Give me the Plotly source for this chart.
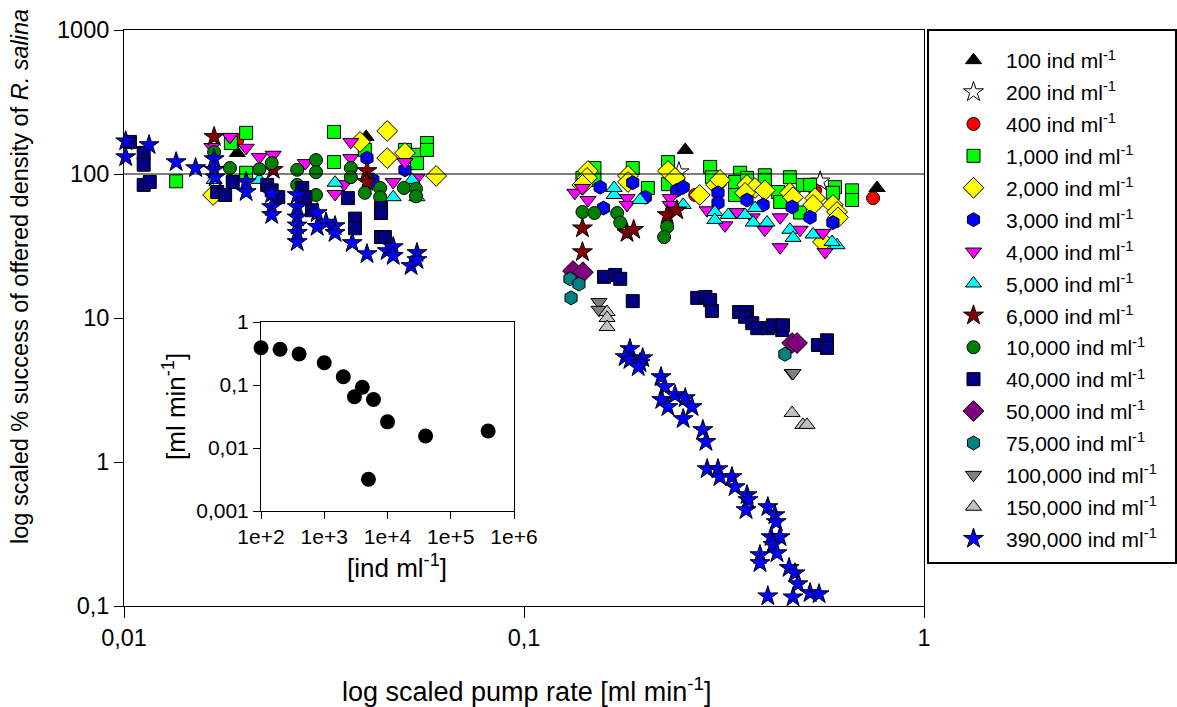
import plotly.graph_objects as go

# ---------------- data ----------------
labels = ["100", "200", "400", "1,000", "2,000", "3,000", "4,000", "5,000", "6,000",
          "10,000", "40,000", "50,000", "75,000", "100,000", "150,000", "390,000"]

rate_100 = [0.0192, 0.0403, 0.253, 0.763]
pct_100 = [140, 181, 147, 80]

rate_200 = [0.244, 0.550]
pct_200 = [103, 89]

rate_400 = [0.0192, 0.268, 0.534, 0.746]
pct_400 = [172, 71.5, 77, 68]

rate_1000 = [0.0135, 0.0202, 0.0185, 0.0202, 0.0335, 0.0335, 0.0400, 0.0504, 0.0540, 0.0572, 0.0572, 0.0540,
             0.150, 0.140, 0.187, 0.204, 0.229, 0.229, 0.292, 0.295, 0.347, 0.337, 0.337, 0.400, 0.400, 0.432,
             0.437, 0.462, 0.498, 0.519, 0.599, 0.592, 0.661, 0.661, 0.490, 0.361, 0.150]
pct_1000 = [89, 193, 164, 102, 196, 121, 147, 147, 136, 164, 147, 119,
            110, 94, 110, 80, 121, 85, 112, 95, 102, 88, 71.5, 98, 91, 75,
            64, 95, 84, 84, 81, 74, 77, 66, 54, 94, 91]

rate_2000 = [0.0167, 0.0455, 0.0455, 0.0389, 0.0504, 0.0603,
             0.1445, 0.1437, 0.182, 0.182, 0.229, 0.2385, 0.275, 0.302, 0.309, 0.361, 0.378, 0.400, 0.462,
             0.4705, 0.357, 0.534, 0.528, 0.592, 0.606, 0.6095, 0.559, 0.140]
pct_2000 = [71.5, 199, 129, 167, 140, 97,
            105, 94, 97, 88, 105, 94, 71.5, 84, 91, 84, 80, 77, 74,
            69, 74, 68, 61, 61, 54.5, 50, 33.7, 84]

rate_3000 = [0.0405, 0.0419, 0.0504, 0.155, 0.158, 0.187, 0.201, 0.241, 0.250, 0.3055, 0.3055, 0.361, 0.396,
             0.468, 0.519, 0.592]
pct_3000 = [129, 91, 107, 81, 58, 87, 69, 77, 81, 74, 63, 66, 61, 59, 50, 46]

rate_4000 = [0.0184, 0.0202, 0.0218, 0.0236, 0.0166, 0.0284, 0.0369, 0.0369, 0.0337, 0.0355, 0.0471, 0.0504, 0.0540,
             0.134, 0.140, 0.1445, 0.181, 0.181, 0.232, 0.232, 0.287, 0.318, 0.341, 0.372, 0.400, 0.437, 0.490,
             0.437, 0.559, 0.566]
pct_4000 = [181, 152, 131, 136, 154, 119, 167, 129, 72.6, 85, 88, 121, 94,
            74, 80, 66, 68, 61, 68, 61, 56, 44, 54.5, 50, 41, 50, 41,
            31, 39, 28.7]

rate_5000 = [0.0168, 0.0218, 0.0337, 0.0471, 0.0525, 0.0540, 0.168, 0.168, 0.195, 0.300, 0.300, 0.324, 0.357,
             0.378, 0.374, 0.405, 0.462, 0.4705, 0.528, 0.606, 0.589, 0.250]
pct_5000 = [91, 91, 87, 69, 91, 69, 71.5, 80, 66, 54.5, 48, 52, 52, 58, 46, 46, 41, 36, 38, 32, 33.7, 61]

rate_6000 = [0.0168, 0.0236, 0.0405, 0.0405, 0.140, 0.140, 0.181, 0.188, 0.228, 0.241]
pct_6000 = [181, 107, 105, 88, 42, 28.7, 39, 41, 52, 56]

rate_10000 = [0.0168, 0.0184, 0.0218, 0.0234, 0.0271, 0.0271, 0.0302, 0.0302, 0.0302, 0.0369, 0.0369, 0.0400,
              0.0437, 0.0437, 0.0501, 0.0537, 0.0537, 0.140, 0.150, 0.171, 0.174, 0.228, 0.224]
pct_10000 = [142, 110, 108, 119, 107, 84, 125, 103, 71.5, 110, 95, 74,
             80, 69, 80, 79, 70, 54.5, 53.6, 53.6, 46, 43, 36.5]

rate_40000 = [0.01035, 0.0112, 0.0112, 0.0112, 0.0116, 0.0171, 0.0179, 0.0187, 0.0228, 0.0234, 0.0243, 0.0279,
              0.0284, 0.0295, 0.0363, 0.0378, 0.0378, 0.0439, 0.0439, 0.0439, 0.0449,
              0.1585, 0.169, 0.174, 0.187, 0.271, 0.284, 0.292, 0.295, 0.345, 0.361, 0.357, 0.372, 0.383,
              0.407, 0.419, 0.442, 0.444, 0.543, 0.572, 0.572]
pct_40000 = [167, 140, 116, 84, 88, 75, 71.5, 88, 84, 77, 69, 80,
             69, 56, 68, 49, 42, 58, 53.6, 36.5, 36.5,
             19.3, 19.9, 18.7, 13.1, 13.8, 14.0, 13.3, 11.2, 11.0, 11.0, 10.2, 9.2, 8.5,
             8.5, 8.9, 8.25, 8.9, 6.5, 7.0, 6.2]

rate_50000 = [0.1326, 0.1404, 0.468, 0.4815]
pct_50000 = [21.2, 20.8, 6.7, 6.7]

rate_75000 = [0.1303, 0.1372, 0.1311, 0.449]
pct_75000 = [18.7, 17.2, 13.8, 5.6]

rate_100000 = [0.154, 0.154, 0.468, 0.4705]
pct_100000 = [12.9, 11.4, 4.15, 4.15]

rate_150000 = [0.1613, 0.1613, 0.1613, 0.468, 0.498, 0.510]
pct_150000 = [11.0, 10.0, 8.66, 2.19, 1.81, 1.81]

rate_390000 = [0.0101, 0.0101, 0.01155, 0.0135, 0.0151, 0.0168, 0.0168, 0.0169, 0.0202, 0.0202, 0.0234, 0.0234,
               0.0234, 0.0271, 0.0271, 0.0271, 0.0271, 0.0271, 0.0271, 0.0304, 0.0304, 0.0320, 0.0337, 0.0337,
               0.0372, 0.0405, 0.0455, 0.0471, 0.0471, 0.0522, 0.0540, 0.0540,
               0.184, 0.179, 0.184, 0.198, 0.195, 0.193, 0.220, 0.225, 0.2385, 0.221, 0.229, 0.253, 0.263,
               0.250, 0.280, 0.285, 0.287, 0.3055, 0.309, 0.331, 0.337, 0.361, 0.363, 0.359, 0.407, 0.424,
               0.427, 0.4145, 0.4365, 0.419, 0.429, 0.389, 0.389, 0.460, 0.476, 0.484, 0.519, 0.5465, 0.407,
               0.4705]
pct_390000 = [169, 131, 159, 121, 110, 127, 107, 95, 88, 75, 72.6, 59,
              52, 71.5, 59, 50, 44, 39, 33.7, 53.6, 43, 46, 43.5, 39,
              33.2, 27.8, 29.2, 31.1, 27, 23, 28.3, 25.3,
              6.09, 5.36, 5.11, 5.27, 4.87, 4.57, 3.89, 3.32, 2.92, 2.70, 2.41, 2.78, 2.41,
              1.99, 1.67, 1.38, 0.893, 0.893, 0.787, 0.787, 0.670, 0.590, 0.545, 0.464, 0.487, 0.428,
              0.383, 0.301, 0.301, 0.266, 0.233, 0.226, 0.199, 0.184, 0.169, 0.142, 0.123, 0.121, 0.117,
              0.115]

# inset: pump rate vs offered density
inset_density = [100, 200, 400, 1000, 2000, 3000, 4000, 5000, 6000, 10000, 40000, 390000]
inset_rate = [0.39, 0.37, 0.31, 0.226, 0.135, 0.065, 0.092, 0.0032, 0.059, 0.026, 0.0155, 0.0186]

main_ticks = [0.01, 0.1, 1]
main_ticktext = ["0,01", "0,1", "1"]
y_ticks = [0.1, 1, 10, 100, 1000]
y_ticktext = ["0,1", "1", "10", "100", "1000"]
inset_xticks = [1e2, 1e3, 1e4, 1e5, 1e6]
inset_xticktext = ["1e+2", "1e+3", "1e+4", "1e+5", "1e+6"]
inset_yticks = [0.001, 0.01, 0.1, 1]
inset_yticktext = ["0,001", "0,01", "0,1", "1"]

series = [
    (rate_100, pct_100, "triangle-up", "#000000", 14),
    (rate_200, pct_200, "star", "#FFFFFF", 15),
    (rate_400, pct_400, "circle", "#FF0000", 13),
    (rate_1000, pct_1000, "square", "#00FF00", 13),
    (rate_2000, pct_2000, "diamond", "#FFFF00", 16),
    (rate_3000, pct_3000, "hexagon", "#0000FF", 14),
    (rate_4000, pct_4000, "triangle-down", "#FF00FF", 14),
    (rate_5000, pct_5000, "triangle-up", "#00FFFF", 14),
    (rate_6000, pct_6000, "star", "#800000", 15),
    (rate_10000, pct_10000, "circle", "#008000", 13),
    (rate_40000, pct_40000, "square", "#000080", 13),
    (rate_50000, pct_50000, "diamond", "#800080", 16),
    (rate_75000, pct_75000, "hexagon", "#008080", 14),
    (rate_100000, pct_100000, "triangle-down", "#808080", 14),
    (rate_150000, pct_150000, "triangle-up", "#C0C0C0", 14),
    (rate_390000, pct_390000, "star", "#0000FF", 15),
]

FONT = "Liberation Sans, Arial, sans-serif"
W, H = 1177, 707

fig = go.Figure()
for (lab, (xs, ys, sym, col, sz)) in zip(labels, series):
    fig.add_trace(go.Scatter(
        x=xs, y=ys, mode="markers", name=f"{lab} ind ml<sup>-1</sup>",
        legendgroup=lab, cliponaxis=False,
        marker=dict(symbol=sym, color=col, size=sz, line=dict(color="black", width=1)),
        xaxis="x", yaxis="y"))

fig.add_trace(go.Scatter(
    x=inset_density, y=inset_rate, mode="markers", showlegend=False, cliponaxis=False,
    marker=dict(symbol="circle", color="black", size=15), xaxis="x2", yaxis="y2"))

def px_x(p):
    return p / W

def px_y(p):
    return 1 - p / H

axis_common = dict(type="log", showline=True, linecolor="black", linewidth=1, mirror=True,
                   ticks="outside", ticklen=9, tickwidth=1, tickcolor="black", automargin=False,
                   showgrid=False, zeroline=False, tickfont=dict(size=23.5, color="black", family=FONT))

fig.update_layout(
    width=W, height=H, margin=dict(l=0, r=0, t=0, b=0, autoexpand=False),
    paper_bgcolor="white", plot_bgcolor="white",
    font=dict(family=FONT, size=21, color="black"),
    xaxis=dict(axis_common, domain=[px_x(124), px_x(924)], range=[-2, 0],
               tickvals=main_ticks, ticktext=main_ticktext, anchor="y", ticklen=11),
    yaxis=dict(axis_common, domain=[px_y(606), px_y(30)], range=[-1, 3],
               tickvals=y_ticks, ticktext=y_ticktext, anchor="x"),
    xaxis2=dict(axis_common, domain=[px_x(261), px_x(514)], range=[2, 6],
                tickvals=inset_xticks, ticktext=inset_xticktext, anchor="y2", ticklen=7,
                tickfont=dict(size=21, color="black", family=FONT)),
    yaxis2=dict(axis_common, domain=[px_y(511), px_y(322)], range=[-3, 0],
                tickvals=inset_yticks, ticktext=inset_yticktext, anchor="x2", ticklen=7,
                tickfont=dict(size=21, color="black", family=FONT)),
    legend=dict(x=px_x(941), y=px_y(40), xanchor="left", yanchor="top",
                bgcolor="rgba(0,0,0,0)", borderwidth=0, tracegroupgap=1.6,
                itemwidth=55, font=dict(size=21, family=FONT)),
    showlegend=True,
)

# reference line at 100 %
fig.add_shape(type="line", xref="x", yref="y", x0=0.01, x1=1, y0=100, y1=100,
              line=dict(color="black", width=1.2))
# inset background
fig.add_shape(type="rect", xref="paper", yref="paper", x0=px_x(261), x1=px_x(514),
              y0=px_y(511), y1=px_y(322), line=dict(width=0), fillcolor="white", layer="below")
# legend box
fig.add_shape(type="rect", xref="paper", yref="paper", x0=px_x(928), x1=px_x(1176),
              y0=px_y(563), y1=px_y(30), line=dict(color="black", width=2))

ann = dict(xref="paper", yref="paper", showarrow=False, xanchor="center", yanchor="middle")
fig.add_annotation(text="log scaled pump rate [ml min<sup>-1</sup>]",
                   x=px_x(526), y=px_y(690), font=dict(size=27), **ann)
fig.add_annotation(text="log scaled % success of offered density of <i>R. salina</i>",
                   x=px_x(20), y=px_y(277), textangle=-90, font=dict(size=23.5), **ann)
fig.add_annotation(text="[ind ml<sup>-1</sup>]",
                   x=px_x(397), y=px_y(566), font=dict(size=26), **ann)
fig.add_annotation(text="[ml min<sup>-1</sup>]",
                   x=px_x(175), y=px_y(406), textangle=-90, font=dict(size=26), **ann)

fig.write_html("out.html")
